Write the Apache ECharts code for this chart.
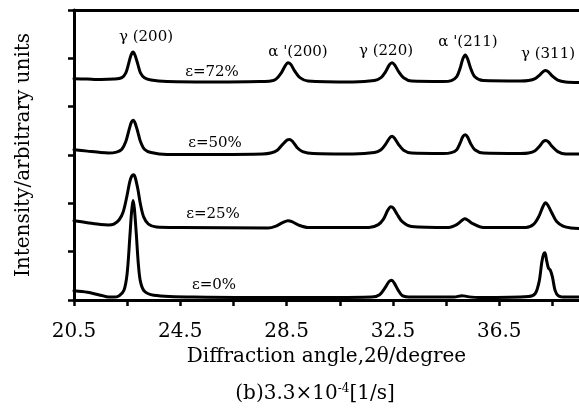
<!DOCTYPE html>
<html>
<head>
<meta charset="utf-8">
<script src="https://cdn.jsdelivr.net/npm/echarts@6/dist/echarts.min.js"></script>
<style>html,body{margin:0;padding:0;background:#fff}#c{width:579px;height:413px}</style>
</head>
<body>
<div id="c"></div>
<script>
// ---- data ----
var xTicks = [20.5, 24.5, 28.5, 32.5, 36.5];
var strainLabels = ['ε=72%', 'ε=50%', 'ε=25%', 'ε=0%'];
var peakLabels = ['γ (200)', 'α \'(200)', 'γ (220)', 'α \'(211)', 'γ (311)'];

var eps72 = [[20.5,4.58],[21.0,4.57],[21.5,4.56],[22.0,4.57],[22.3,4.60],[22.45,4.70],[22.55,4.88],[22.64,5.06],[22.72,5.13],[22.8,5.06],[22.9,4.88],[23.0,4.70],[23.15,4.60],[23.4,4.55],[24.0,4.52],[26.0,4.51],[27.5,4.52],[27.9,4.53],[28.1,4.57],[28.3,4.70],[28.45,4.85],[28.55,4.91],[28.65,4.88],[28.8,4.74],[29.0,4.60],[29.3,4.53],[31.0,4.51],[31.8,4.54],[32.05,4.60],[32.22,4.72],[32.37,4.87],[32.47,4.91],[32.57,4.86],[32.72,4.72],[32.9,4.60],[33.2,4.53],[34.4,4.52],[34.7,4.54],[34.9,4.62],[35.03,4.80],[35.13,4.99],[35.22,5.07],[35.31,4.99],[35.42,4.80],[35.58,4.62],[35.9,4.54],[37.3,4.53],[37.6,4.54],[37.85,4.58],[38.03,4.66],[38.16,4.73],[38.25,4.75],[38.35,4.72],[38.5,4.63],[38.7,4.55],[39.0,4.51],[39.5,4.50]];
var eps50 = [[20.5,3.11],[21.0,3.08],[21.5,3.05],[21.8,3.04],[22.1,3.06],[22.3,3.12],[22.45,3.28],[22.57,3.52],[22.66,3.68],[22.73,3.72],[22.8,3.66],[22.9,3.48],[23.0,3.28],[23.15,3.12],[23.4,3.05],[24.0,3.01],[26.0,3.01],[27.6,3.02],[27.9,3.04],[28.15,3.10],[28.35,3.22],[28.52,3.31],[28.62,3.32],[28.74,3.27],[28.9,3.15],[29.1,3.07],[29.5,3.03],[31.0,3.02],[31.8,3.05],[32.05,3.11],[32.22,3.22],[32.37,3.35],[32.47,3.39],[32.57,3.34],[32.72,3.21],[32.9,3.10],[33.2,3.04],[34.4,3.03],[34.7,3.05],[34.9,3.11],[35.03,3.25],[35.13,3.38],[35.22,3.42],[35.31,3.37],[35.42,3.24],[35.58,3.11],[35.9,3.04],[37.3,3.03],[37.6,3.04],[37.85,3.09],[38.03,3.19],[38.16,3.28],[38.25,3.30],[38.35,3.27],[38.5,3.17],[38.7,3.07],[39.0,3.02],[39.5,3.02]];
var eps25 = [[20.5,1.64],[21.0,1.60],[21.5,1.56],[21.8,1.55],[22.0,1.57],[22.2,1.66],[22.35,1.82],[22.48,2.12],[22.6,2.45],[22.68,2.57],[22.74,2.59],[22.8,2.54],[22.9,2.30],[23.0,1.98],[23.12,1.72],[23.3,1.57],[23.6,1.51],[24.5,1.50],[27.8,1.49],[28.1,1.53],[28.35,1.60],[28.55,1.64],[28.7,1.62],[28.95,1.55],[29.3,1.50],[31.6,1.50],[31.95,1.56],[32.15,1.68],[32.3,1.85],[32.42,1.93],[32.52,1.90],[32.65,1.78],[32.85,1.62],[33.2,1.52],[34.6,1.50],[34.9,1.56],[35.08,1.64],[35.2,1.68],[35.32,1.65],[35.5,1.58],[35.9,1.50],[37.5,1.50],[37.8,1.57],[38.0,1.74],[38.14,1.93],[38.24,2.01],[38.33,1.96],[38.48,1.80],[38.65,1.63],[38.9,1.53],[39.2,1.49],[39.5,1.48]];
var eps0 = [[20.5,0.19],[21.0,0.16],[21.5,0.10],[21.8,0.06],[22.0,0.06],[22.2,0.09],[22.38,0.20],[22.5,0.55],[22.6,1.30],[22.67,1.85],[22.72,2.06],[22.77,1.90],[22.84,1.40],[22.92,0.75],[23.0,0.38],[23.15,0.18],[23.5,0.10],[25.0,0.06],[28.0,0.05],[30.0,0.05],[31.7,0.06],[32.0,0.11],[32.2,0.25],[32.35,0.38],[32.45,0.41],[32.55,0.35],[32.7,0.20],[32.85,0.09],[33.2,0.06],[34.8,0.06],[35.1,0.09],[35.3,0.07],[35.8,0.05],[37.6,0.07],[37.85,0.13],[38.0,0.38],[38.1,0.78],[38.17,0.95],[38.22,0.98],[38.28,0.82],[38.35,0.66],[38.42,0.62],[38.5,0.48],[38.6,0.20],[38.72,0.09],[39.0,0.06],[39.5,0.06]];

var FONT = '"DejaVu Serif", "Liberation Serif", serif';

function lineSeries(d) {
  return { type: 'line', data: d, showSymbol: false, smooth: 0.3,
    lineStyle: { color: '#000', width: 3, join: 'round', cap: 'round' }, animation: false };
}

function txt(str, x, y, size) {
  return { type: 'text', x: x, y: y, style: { text: str, font: size + 'px ' + FONT, fill: '#000', align: 'center', verticalAlign: 'middle' } };
}

var chart = echarts.init(document.getElementById('c'), null, { renderer: 'canvas' });
chart.setOption({
  animation: false,
  backgroundColor: '#fff',
  grid: { left: 74, top: 10, right: 0, bottom: 113 },
  xAxis: [{
    type: 'value', min: 20.5, max: 39.5, interval: 2, position: 'bottom',
    axisLine: { lineStyle: { color: '#000', width: 3 } },
    axisTick: { inside: false, length: 6, lineStyle: { color: '#000', width: 2.5 } },
    splitLine: { show: false },
    axisLabel: { color: '#000', fontFamily: FONT, fontSize: 20, margin: 22, showMaxLabel: false,
      formatter: function (v) { return xTicks.indexOf(Math.round(v * 10) / 10) >= 0 ? v.toFixed(1) : ''; } },
    name: 'Diffraction angle,2θ/degree', nameLocation: 'middle', nameGap: 47,
    nameTextStyle: { color: '#000', fontFamily: FONT, fontSize: 20 }
  }, {
    type: 'value', min: 20.5, max: 39.5, position: 'top',
    axisLine: { show: true, lineStyle: { color: '#000', width: 3 } },
    axisTick: { show: false }, axisLabel: { show: false }, splitLine: { show: false }
  }],
  yAxis: {
    type: 'value', min: 0, max: 6, interval: 1,
    axisLine: { show: true, lineStyle: { color: '#000', width: 3 } },
    axisTick: { show: true, inside: false, length: 6, lineStyle: { color: '#000', width: 2.5 } },
    axisLabel: { show: false }, splitLine: { show: false },
    name: 'Intensity/arbitrary units', nameLocation: 'middle', nameGap: 40, nameRotate: 90,
    nameTextStyle: { color: '#000', fontFamily: FONT, fontSize: 20 }
  },
  series: [lineSeries(eps72), lineSeries(eps50), lineSeries(eps25), lineSeries(eps0)],
  graphic: [
    txt(peakLabels[0], 146, 37, 15),
    txt(peakLabels[1], 298, 52, 15),
    txt(peakLabels[2], 386, 51, 15),
    txt(peakLabels[3], 468, 42, 15),
    txt(peakLabels[4], 548, 54, 15),
    txt(strainLabels[0], 212, 72, 15),
    txt(strainLabels[1], 215, 143, 15),
    txt(strainLabels[2], 213, 214, 15),
    txt(strainLabels[3], 214, 285, 15),
    { type: 'text', x: 315, y: 394, style: {
        text: '(b)3.3×10{s|-4}[1/s]', verticalAlign: 'middle', align: 'center',
        font: '20px ' + FONT, fill: '#000',
        rich: { s: { fontSize: 12, fontFamily: FONT, fill: '#000', verticalAlign: 'top', padding: [0,0,10,0] } } } }
  ]
});
</script>
</body>
</html>
